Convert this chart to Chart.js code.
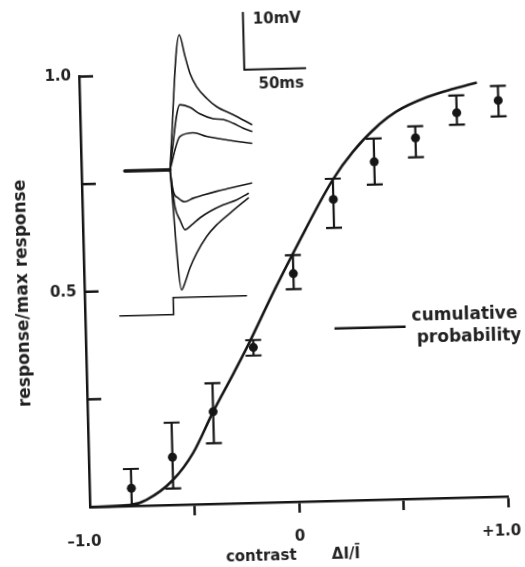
<!DOCTYPE html>
<html>
<head>
<meta charset="utf-8">
<script src="https://cdn.jsdelivr.net/npm/chart.js@4.4.1/dist/chart.umd.min.js"></script>
<style>
  html, body { margin: 0; padding: 0; background: #fff; overflow: hidden; }
  #wrap { width: 525px; height: 567px; position: relative; overflow: hidden; }
  /* the scanned figure sits a little tilted on the page */
  #chart { display: block; transform: rotate(-1.45deg); transform-origin: 90px 507px; }
</style>
</head>
<body>
<div id="wrap"><canvas id="chart" width="525" height="567"></canvas></div>
<script>
// MEASURED RESPONSES (mean and error bar ends)
const contrast = [-0.8, -0.6, -0.4, -0.2, 0, 0.2, 0.4, 0.6, 0.8, 1.0];
const meanResponse = [0.041, 0.111, 0.214, 0.361, 0.530, 0.700, 0.785, 0.838, 0.894, 0.920];
const errUpper = [0.086, 0.191, 0.280, 0.378, 0.573, 0.748, 0.839, 0.865, 0.934, 0.954];
const errLower = [0.0, 0.038, 0.141, 0.342, 0.494, 0.634, 0.732, 0.793, 0.866, 0.883];

// CUMULATIVE PROBABILITY CURVE
const cumX = [-1.0, -0.81, -0.73, -0.6, -0.5, -0.4, -0.3, -0.23, -0.09, 0.02, 0.2, 0.3, 0.43, 0.51, 0.66, 0.79, 0.9];
const cumY = [0, 0.002, 0.013, 0.058, 0.120, 0.214, 0.300, 0.362, 0.495, 0.594, 0.746, 0.810, 0.872, 0.900, 0.932, 0.950, 0.963];

// AXIS TICKS
const xTickValues = [-1, 0, 1];
const xTickText = ['\u20131.0\u2002 ', '0', '+1.0\u2003'];
const yTickValues = [0.25, 0.5, 0.75, 1.0];
const yLabelValues = [0.5, 1.0];
const yLabelText = ['0.5', '1.0'];

// INSET RECORDINGS (time in ms from step, voltage in mV)
const baseT = [-37, 0];
const baseV = [0, 0];
const traceAT = [0, 10.4, 14.7, 18.4, 23.6, 31.6, 39.6, 53, 67.9];
const traceAV = [0, 23.7, 19.9, 16.9, 14.5, 12.4, 10.9, 9.4, 7.6];
const traceBT = [0, 9.5, 17.7, 25.7, 36.5, 44.7, 52.8, 60.9, 67.8];
const traceBV = [0, 11.4, 10.9, 9.7, 8.8, 8.6, 7.9, 7.0, 6.4];
const traceCT = [0, 8.9, 19.8, 30.7, 47.1, 67.5];
const traceCV = [0, 5.8, 6.4, 5.7, 5.0, 4.3];
const traceDT = [0, 2.3, 6.2, 11.6, 18.5, 26.8, 37.8, 48.8, 66.6];
const traceDV = [0, -3.8, -5.0, -5.7, -5.1, -4.6, -4.0, -3.5, -2.7];
const traceET = [0, 3.3, 7.2, 11.1, 16.6, 23.6, 31.9, 43, 54, 63.7];
const traceEV = [0, -6.5, -8.9, -10.6, -9.8, -8.6, -7.5, -6.4, -5.6, -4.5];
const traceFT = [0, 7.1, 9.9, 14.3, 20.2, 28.7, 37.1, 48.3, 63.6];
const traceFV = [0, -21.2, -20.0, -17.4, -14.8, -11.9, -9.9, -7.9, -5.3];
const stimT = [-44, 0, 0, 60];
const stimV = [-25.5, -25.5, -22.5, -22.5];
const barT = [63, 63, 113];
const barV = [27.3, 17.3, 17.3];
const insetTimeRange = [-72.5, 270.4];
const insetVoltRange = [-59, 16.8];

const family = "'DejaVu Sans', sans-serif";
const ink = '#161616';
const textInk = '#222';

const pts = (xs, ys) => xs.map((v, i) => ({ x: v, y: ys[i] }));

function insetLine(xs, ys, width) {
  return {
    type: 'scatter',
    showLine: true,
    data: pts(xs, ys),
    xAxisID: 'xt',
    yAxisID: 'yv',
    borderColor: ink,
    borderWidth: width,
    borderCapStyle: 'round',
    pointRadius: 0,
    cubicInterpolationMode: 'monotone',
    clip: false,
  };
}

// error bars, inward y ticks, legend and scale bar text
const extras = {
  id: 'extras',
  afterDatasetsDraw(chart) {
    const { ctx, chartArea, scales } = chart;
    const x = scales.x, y = scales.y, xt = scales.xt, yv = scales.yv;
    ctx.save();
    ctx.strokeStyle = ink;
    ctx.lineCap = 'butt';

    ctx.lineWidth = 2.2;
    contrast.forEach((c, i) => {
      const px = x.getPixelForValue(c);
      const top = y.getPixelForValue(errUpper[i]);
      const bot = y.getPixelForValue(errLower[i]);
      ctx.beginPath();
      ctx.moveTo(px, top);
      ctx.lineTo(px, bot);
      ctx.moveTo(px - 8, top);
      ctx.lineTo(px + 8, top);
      ctx.moveTo(px - 8, bot);
      ctx.lineTo(px + 8, bot);
      ctx.stroke();
    });

    ctx.lineWidth = 2.5;
    yTickValues.forEach(v => {
      const py = y.getPixelForValue(v);
      ctx.beginPath();
      ctx.moveTo(chartArea.left, py);
      ctx.lineTo(chartArea.left + 14, py);
      ctx.stroke();
    });

    // legend
    const ly = y.getPixelForValue(0.4);
    ctx.beginPath();
    ctx.moveTo(x.getPixelForValue(0.19), ly);
    ctx.lineTo(x.getPixelForValue(0.53), ly);
    ctx.stroke();
    ctx.fillStyle = textInk;
    ctx.textBaseline = 'middle';
    ctx.textAlign = 'left';
    ctx.font = `bold 17px ${family}`;
    ctx.fillText('cumulative', x.getPixelForValue(0.56), y.getPixelForValue(0.423));
    ctx.fillText('probability', x.getPixelForValue(0.582), y.getPixelForValue(0.373));

    // scale bar labels
    ctx.font = `bold 15px ${family}`;
    ctx.fillText('10mV', xt.getPixelForValue(71), yv.getPixelForValue(26));
    ctx.textAlign = 'center';
    ctx.fillText('50ms', xt.getPixelForValue(93), yv.getPixelForValue(14.6));
    ctx.restore();
  }
};

new Chart(document.getElementById('chart'), {
  type: 'scatter',
  data: {
    datasets: [
      {
        label: 'cumulative probability',
        showLine: true,
        data: pts(cumX, cumY),
        borderColor: ink,
        borderWidth: 2.6,
        pointRadius: 0,
        cubicInterpolationMode: 'monotone',
        clip: false,
      },
      {
        label: 'response',
        data: pts(contrast, meanResponse),
        pointRadius: 4.5,
        backgroundColor: ink,
        borderWidth: 0,
        clip: false,
      },
      insetLine(baseT, baseV, 3.5),
      insetLine(traceAT, traceAV, 1.6),
      insetLine(traceBT, traceBV, 1.6),
      insetLine(traceCT, traceCV, 1.6),
      insetLine(traceDT, traceDV, 1.6),
      insetLine(traceET, traceEV, 1.6),
      insetLine(traceFT, traceFV, 1.6),
      insetLine(stimT, stimV, 1.6),
      insetLine(barT, barV, 2),
    ],
  },
  options: {
    responsive: false,
    animation: false,
    layout: { padding: { left: 0, right: 16.6, top: 76.5, bottom: 0 } },
    plugins: { legend: { display: false }, tooltip: { enabled: false } },
    scales: {
      x: {
        type: 'linear',
        min: -1,
        max: 1,
        afterFit: s => { s.height = 60; s.paddingLeft = 0; s.paddingRight = 0; },
        border: { display: true, color: ink, width: 2.5 },
        grid: {
          display: true,
          drawOnChartArea: false,
          drawTicks: true,
          tickLength: 11,
          tickWidth: 2.5,
          tickColor: c => (c.tick && c.tick.value === -1 ? 'rgba(0,0,0,0)' : ink),
        },
        ticks: {
          stepSize: 0.5,
          autoSkip: false,
          maxRotation: 0,
          padding: 15,
          color: textInk,
          font: { family, size: 15, weight: 'bold' },
          callback: v => {
            const k = xTickValues.indexOf(v);
            return k < 0 ? '' : xTickText[k];
          },
        },
        title: {
          display: true,
          text: 'contrast\u2003\u2003 \u0394I/\u012A\u2003',
          color: textInk,
          font: { family, size: 15, weight: 'bold', lineHeight: '12px' },
          padding: 0,
        },
      },
      y: {
        type: 'linear',
        min: 0,
        max: 1,
        afterFit: s => { s.width = 90; s.paddingTop = 0; s.paddingBottom = 0; },
        border: { display: true, color: ink, width: 2.5 },
        grid: { display: false, drawTicks: false },
        ticks: {
          stepSize: 0.25,
          padding: 8,
          color: textInk,
          font: { family, size: 15, weight: 'bold' },
          callback: v => {
            const k = yLabelValues.indexOf(v);
            return k < 0 ? '' : yLabelText[k];
          },
        },
        title: {
          display: true,
          text: 'response/max response',
          color: textInk,
          font: { family, size: 17, weight: 'bold', lineHeight: '17px' },
          padding: { top: 20, bottom: 0 },
        },
      },
      xt: { type: 'linear', display: false, min: insetTimeRange[0], max: insetTimeRange[1] },
      yv: { type: 'linear', display: false, min: insetVoltRange[0], max: insetVoltRange[1] },
    },
  },
  plugins: [extras],
});
</script>
</body>
</html>
